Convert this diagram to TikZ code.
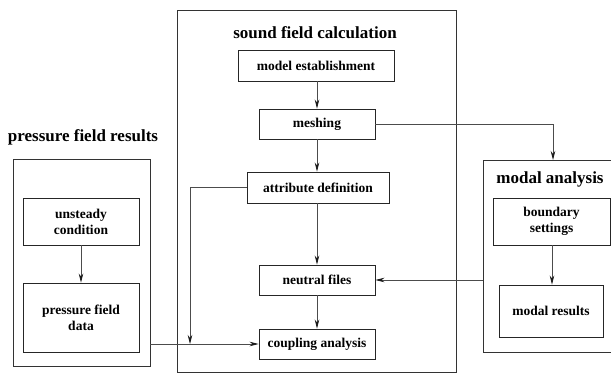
\documentclass[tikz,border=0pt]{standalone}
\usepackage{fontspec}
\setmainfont{Liberation Serif}
\usetikzlibrary{arrows.meta}
\begin{document}
\begin{tikzpicture}[x=1pt,y=-1pt,
  box/.style={draw=black!85,line width=0.9pt,rectangle,inner sep=0pt,align=center,
    font=\fontsize{13.5}{16}\selectfont\bfseries},
  frame/.style={draw=black!80,line width=0.9pt,rectangle,inner sep=0pt},
  title/.style={font=\fontsize{17}{20}\selectfont\bfseries,inner sep=0pt},
  conn/.style={draw=black!70,line width=0.8pt,-{Stealth[length=9pt,width=4.5pt,color=black!90]}}]
\clip (0,0) rectangle (611,373);
\fill[white] (0,0) rectangle (611,373);
% frames
\node[frame,minimum width=279pt,minimum height=362pt] (cframe) at (316.5,191) {};
\node[frame,minimum width=137pt,minimum height=207pt] (lframe) at (81.5,262.5) {};
\node[frame,minimum width=132pt,minimum height=192pt] (rframe) at (549,256) {};
% titles
\node[title] (tc) at (315,33) {sound field calculation};
\node[title] (tl) at (83,137) {pressure field results};
\node[title] (tr) at (550,179) {modal analysis};
% center boxes
\node[box,minimum width=156pt,minimum height=31pt] (model) at (316,65.5) {model establishment};
\node[box,minimum width=116pt,minimum height=30pt] (mesh) at (317,124) {meshing};
\node[box,minimum width=142pt,minimum height=31pt] (attr) at (318,187.5) {attribute definition};
\node[box,minimum width=116pt,minimum height=30pt] (neutral) at (317,280) {neutral files};
\node[box,minimum width=116pt,minimum height=30pt] (coup) at (317,344) {coupling analysis};
% left boxes
\node[box,minimum width=116pt,minimum height=47pt] (unst) at (81,221.5) {unsteady\\condition};
\node[box,minimum width=116pt,minimum height=69pt] (pdata) at (81,317.5) {pressure field\\data};
% right boxes
\node[box,minimum width=117pt,minimum height=47pt] (bound) at (551.5,221.5) {boundary\\settings};
\node[box,minimum width=104pt,minimum height=52pt] (mres) at (551,311) {modal results};
% helper coordinates
\coordinate (j) at (190,344);
\coordinate (mt) at (553,160);
% connectors
\draw[conn] (model.south -| mesh) -- (mesh.north);
\draw[conn] (mesh.south) -- (mesh.south |- attr.north);
\draw[conn] (attr.south -| neutral) -- (neutral.north);
\draw[conn] (neutral.south) -- (coup.north);
\draw[conn] (unst.south) -- (pdata.north);
\draw[conn] (bound.south -| 552,0) -- (mres.north -| 552,0);
\draw[conn] (mesh.east) -| (mt);
\draw[conn] (rframe.west |- neutral) -- (neutral.east);
\draw[conn] (lframe.east |- coup) -- (coup.west);
\draw[conn] (attr.west) -| (j);
\end{tikzpicture}
\end{document}
